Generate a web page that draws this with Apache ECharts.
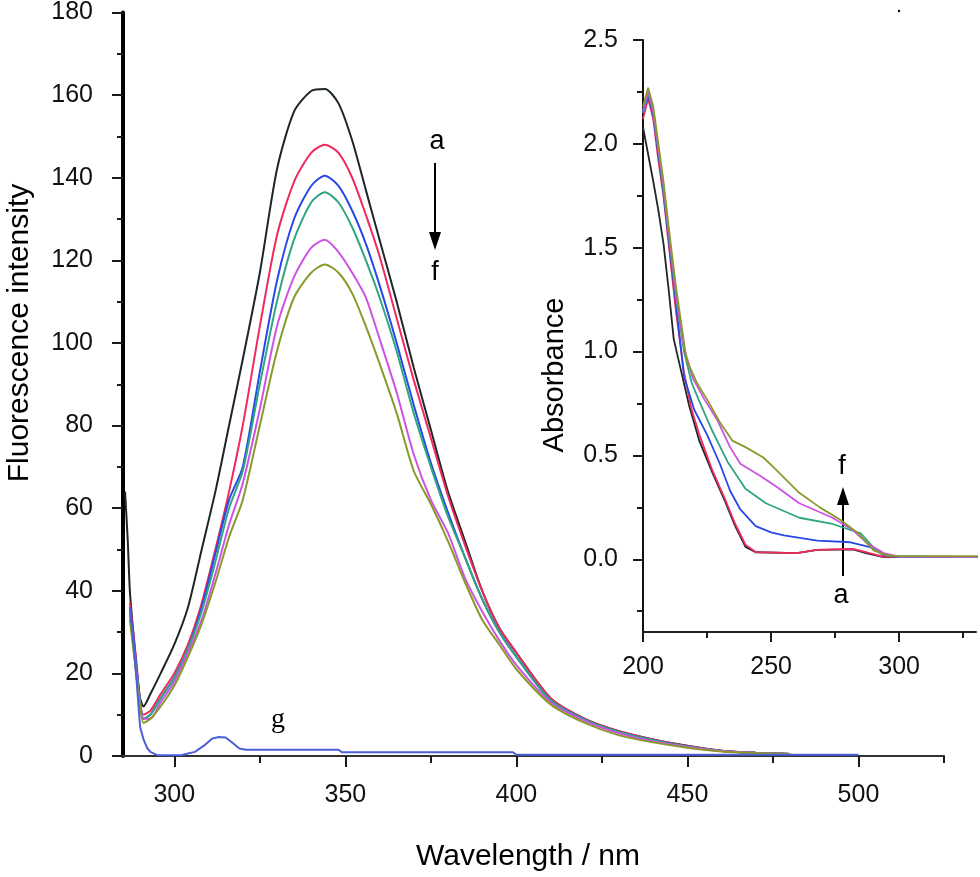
<!DOCTYPE html>
<html>
<head>
<meta charset="utf-8">
<script src="https://cdn.jsdelivr.net/npm/echarts@6/dist/echarts.min.js"></script>
<style>html,body{margin:0;padding:0;background:#fff}#chart{width:980px;height:877px}</style>
</head>
<body>
<div id="chart"></div>
<script>
// fluorescence spectra a-f (shared wavelength grid) + blank g
const fluoNm = [287, 288, 289, 290, 291, 293, 296, 300, 304, 308, 312, 316, 320, 325, 330, 335, 340, 344, 348, 352,
  356, 360, 365, 370, 375, 380, 385, 390, 395, 400, 410, 420, 430, 440, 450, 460, 470, 480];
const fluoA = [40, 30, 21, 14, 12, 15, 20, 27, 36, 50, 64, 80, 96, 117, 142, 156, 161, 161.5, 158, 149,
  137, 125, 110, 94, 79, 64, 52, 40, 31, 25, 14, 9, 6, 4, 2.5, 1.3, 0.8, 0.5];
const fluoB = [37, 30, 22, 13, 10, 11, 15, 20, 27, 37, 50, 64, 80, 104, 126, 139, 146, 148, 146, 140,
  131, 121, 106, 91, 77, 63, 51, 40, 31, 25, 14, 9, 6, 4, 2.4, 1.3, 0.8, 0.5];
const fluoC = [36, 29, 21, 13, 9, 10, 14, 19, 26, 36, 49, 62, 70, 93, 115, 130, 138, 140.5, 138, 132,
  124, 114, 100, 85, 71, 59, 48, 38, 30, 24, 13.5, 8.8, 5.8, 3.8, 2.3, 1.2, 0.7, 0.5];
const fluoD = [35, 28, 20, 13, 9, 10, 14, 19, 26, 35, 47, 60, 69, 90, 110, 125, 134, 136.5, 134, 128,
  120, 111, 98, 83, 70, 58, 48, 38, 30, 24, 13.5, 8.8, 5.8, 3.8, 2.3, 1.2, 0.7, 0.5];
const fluoE = [34, 27, 19, 12, 9, 9, 13, 18, 25, 33, 44, 56, 66, 84, 104, 116, 123, 125, 122, 117,
  111, 101, 88, 73, 62, 54, 43, 35, 28, 22, 13, 8.5, 5.5, 3.5, 2.2, 1.2, 0.7, 0.5];
const fluoF = [33, 26, 19, 12, 8, 9, 12, 17, 24, 32, 42, 53, 62, 80, 98, 111, 117, 119, 117, 112,
  104, 95, 83, 69, 61, 52, 42, 33, 27, 21, 12.5, 8, 5, 3.3, 2, 1.1, 0.7, 0.5];
const spikeNm = [285.6, 286.4];   // spike at start of curve a
const spikeA = [64, 52];
const blankNm = [287, 288, 289, 290, 291, 292, 293, 295, 302, 304, 306, 309, 311, 313, 315, 317, 319, 321, 348, 349, 399, 400, 500];
const blankG = [36, 28, 18, 7, 4, 2, 1, 0.2, 0.2, 0.6, 1.0, 2.7, 4.2, 4.6, 4.5, 3.2, 1.8, 1.5, 1.5, 0.9, 0.9, 0.3, 0.3];

// inset: absorbance [nm, A]
const absA = [[200,2.08],[202,1.95],[204,1.82],[206,1.68],[208,1.52],[210,1.3],[212,1.06],[215,0.9],[218,0.74],[222,0.57],
  [227,0.42],[232,0.28],[236,0.16],[240,0.06],[244,0.034],[260,0.03],[268,0.045],[282,0.048],[287,0.03],[294,0.01],[331,0.01]];
const absB = [[200,2.12],[202,2.22],[204,2.12],[206,1.92],[208,1.75],[210,1.52],[213,1.18],[216,0.9],[219,0.72],[222,0.6],
  [227,0.43],[232,0.29],[236,0.17],[240,0.07],[244,0.035],[260,0.03],[268,0.045],[282,0.05],[287,0.035],[294,0.012],[331,0.012]];
const absC = [[200,2.15],[202,2.23],[204,2.14],[206,1.95],[208,1.76],[210,1.55],[213,1.22],[216,0.88],[220,0.72],[225,0.6],
  [230,0.46],[234,0.33],[238,0.24],[244,0.16],[250,0.13],[255,0.115],[268,0.09],[281,0.082],[289,0.058],[294,0.02],[300,0.01],[331,0.01]];
const absD = [[200,2.15],[202,2.25],[204,2.15],[206,1.97],[208,1.78],[210,1.57],[213,1.25],[216,1.0],[219,0.85],[222,0.76],
  [227,0.62],[233,0.47],[240,0.34],[248,0.27],[261,0.2],[274,0.17],[285,0.125],[291,0.043],[296,0.015],[331,0.01]];
const absE = [[200,2.16],[202,2.25],[204,2.16],[206,1.98],[208,1.8],[210,1.58],[213,1.27],[216,1.02],[219.5,0.87],[224,0.77],
  [229,0.67],[234,0.54],[238,0.46],[246,0.4],[252,0.35],[261,0.27],[274,0.2],[282,0.14],[287.5,0.077],[294,0.03],[300,0.012],[331,0.012]];
const absF = [[200,2.18],[202,2.27],[204,2.18],[206,2.0],[208,1.82],[210,1.6],[213,1.3],[217,0.96],[221,0.85],[225,0.77],
  [230,0.66],[235,0.57],[240,0.54],[247,0.49],[252,0.43],[261,0.32],[269,0.25],[277,0.19],[284,0.125],[290,0.043],[295,0.02],[300,0.015],[331,0.015]];

const mainXLabels = [300, 350, 400, 450, 500];
const mainXMinor = [325, 375, 425, 475, 525];
const insetXLabels = [200, 250, 300];
const insetXMinor = [225, 275, 325];
const insetYLabels = [0, 0.5, 1, 1.5, 2, 2.5];
const insetYMinor = [-0.25, 0.25, 0.75, 1.25, 1.75, 2.25];

const colors = ['#1e2626', '#f02a5c', '#2a48e6', '#2fa581', '#cf52e6', '#8a9a2a'];
const gColor = '#4b5fd8';
const FONT = '"Liberation Sans", Arial, sans-serif';

(function(){
  const el = document.getElementById('chart');
  const chart = echarts.init(el);
  const pair = (xs, ys) => xs.map((x, i) => [x, ys[i]]);
  const tickStyle = { color: '#1a1a1a', width: 2 };
  const lbl = { fontSize: 25, color: '#111', fontFamily: FONT };

  const mainLine = (name, data, color, smooth) => ({
    name, type: 'line', xAxisIndex: 0, yAxisIndex: 0, data, showSymbol: false, smooth,
    lineStyle: { width: 2, color }, itemStyle: { color }, z: 3
  });
  const insetLine = (name, data, color) => ({
    name, type: 'line', xAxisIndex: 2, yAxisIndex: 1, data, showSymbol: false,
    lineStyle: { width: 1.8, color }, itemStyle: { color }, z: 3
  });

  chart.setOption({
    backgroundColor: '#fff',
    animation: false,
    grid: [
      { left: 123, top: 11, width: 821, height: 745 },
      { left: 643, top: 40, width: 333, height: 592 }
    ],
    xAxis: [
      { gridIndex: 0, type: 'value', min: 285, max: 525, position: 'bottom',
        axisLine: { lineStyle: { color: '#333', width: 2 } },
        axisTick: { customValues: mainXLabels, length: 11, lineStyle: tickStyle },
        axisLabel: Object.assign({ customValues: mainXLabels, margin: 27 }, lbl),
        splitLine: { show: false } },
      { gridIndex: 0, type: 'value', min: 285, max: 525, position: 'bottom',
        axisLine: { show: false },
        axisTick: { show: true, customValues: mainXMinor, length: 7, lineStyle: tickStyle },
        axisLabel: { show: false }, splitLine: { show: false } },
      { gridIndex: 1, type: 'value', min: 200, max: 330, position: 'bottom',
        axisLine: { onZero: false, lineStyle: { color: '#222', width: 2 } },
        axisTick: { customValues: insetXLabels, length: 10, lineStyle: tickStyle },
        axisLabel: Object.assign({ customValues: insetXLabels, margin: 23 }, lbl),
        splitLine: { show: false } },
      { gridIndex: 1, type: 'value', min: 200, max: 330, position: 'bottom',
        axisLine: { show: false, onZero: false },
        axisTick: { show: true, customValues: insetXMinor, length: 6, lineStyle: tickStyle },
        axisLabel: { show: false }, splitLine: { show: false } }
    ],
    yAxis: [
      { gridIndex: 0, type: 'value', min: 0, max: 180, interval: 20, position: 'left',
        axisLine: { show: true, lineStyle: { color: '#000', width: 4 } },
        axisTick: { show: true, length: 11, lineStyle: tickStyle },
        minorTick: { show: true, splitNumber: 2, length: 6, lineStyle: tickStyle },
        axisLabel: Object.assign({ margin: 30 }, lbl),
        splitLine: { show: false } },
      { gridIndex: 1, type: 'value', min: -0.35, max: 2.5, position: 'left',
        axisLine: { show: true, onZero: false, lineStyle: { color: '#111', width: 2 } },
        axisTick: { show: true, customValues: insetYLabels, length: 10, lineStyle: tickStyle },
        axisLabel: Object.assign({ customValues: insetYLabels, margin: 25, formatter: v => v.toFixed(1) }, lbl),
        splitLine: { show: false } },
      { gridIndex: 1, type: 'value', min: -0.35, max: 2.5, position: 'left',
        axisLine: { show: false, onZero: false },
        axisTick: { show: true, customValues: insetYMinor, length: 6, lineStyle: tickStyle },
        axisLabel: { show: false }, splitLine: { show: false } }
    ],
    series: [
      mainLine('a', pair(spikeNm, spikeA).concat(pair(fluoNm, fluoA)), colors[0], 0.25),
      mainLine('b', pair(fluoNm, fluoB), colors[1], 0.25),
      mainLine('c', pair(fluoNm, fluoC), colors[2], 0.25),
      mainLine('d', pair(fluoNm, fluoD), colors[3], 0.25),
      mainLine('e', pair(fluoNm, fluoE), colors[4], 0.25),
      mainLine('f', pair(fluoNm, fluoF), colors[5], 0.25),
      mainLine('g', pair(blankNm, blankG), gColor, false),
      insetLine('a', absA, colors[0]),
      insetLine('b', absB, colors[1]),
      insetLine('c', absC, colors[2]),
      insetLine('d', absD, colors[3]),
      insetLine('e', absE, colors[4]),
      insetLine('f', absF, colors[5])
    ],
    graphic: [
      { type: 'text', x: 20, y: 333, rotation: Math.PI / 2,
        style: { text: 'Fluorescence intensity', font: '30px ' + FONT, fill: '#000', align: 'center', verticalAlign: 'middle' } },
      { type: 'text', x: 528, y: 857,
        style: { text: 'Wavelength / nm', font: '30px ' + FONT, fill: '#000', align: 'center', verticalAlign: 'middle' } },
      { type: 'text', x: 555, y: 375, rotation: Math.PI / 2,
        style: { text: 'Absorbance', font: '29px ' + FONT, fill: '#000', align: 'center', verticalAlign: 'middle' } },
      // a -> f arrow, main plot
      { type: 'text', x: 437, y: 142, style: { text: 'a', font: '27px ' + FONT, fill: '#000', align: 'center', verticalAlign: 'middle' } },
      { type: 'line', shape: { x1: 435, y1: 163, x2: 435, y2: 236 }, style: { stroke: '#000', lineWidth: 2 } },
      { type: 'polygon', shape: { points: [[429, 232], [441, 232], [435, 250]] }, style: { fill: '#000' } },
      { type: 'text', x: 435, y: 273, style: { text: 'f', font: '27px ' + FONT, fill: '#000', align: 'center', verticalAlign: 'middle' } },
      // a -> f arrow, inset
      { type: 'text', x: 842, y: 467, style: { text: 'f', font: '27px ' + FONT, fill: '#000', align: 'center', verticalAlign: 'middle' } },
      { type: 'line', shape: { x1: 843, y1: 576, x2: 843, y2: 500 }, style: { stroke: '#000', lineWidth: 2 } },
      { type: 'polygon', shape: { points: [[837, 505], [849, 505], [843, 487]] }, style: { fill: '#000' } },
      { type: 'text', x: 841, y: 596, style: { text: 'a', font: '27px ' + FONT, fill: '#000', align: 'center', verticalAlign: 'middle' } },
      // blank label
      { type: 'text', x: 278, y: 720, style: { text: 'g', font: '28px "Liberation Serif", serif', fill: '#000', align: 'center', verticalAlign: 'middle' } },
      { type: 'circle', shape: { cx: 899, cy: 11, r: 1.2 }, style: { fill: '#000' } }
    ]
  });
})();
</script>
</body>
</html>
